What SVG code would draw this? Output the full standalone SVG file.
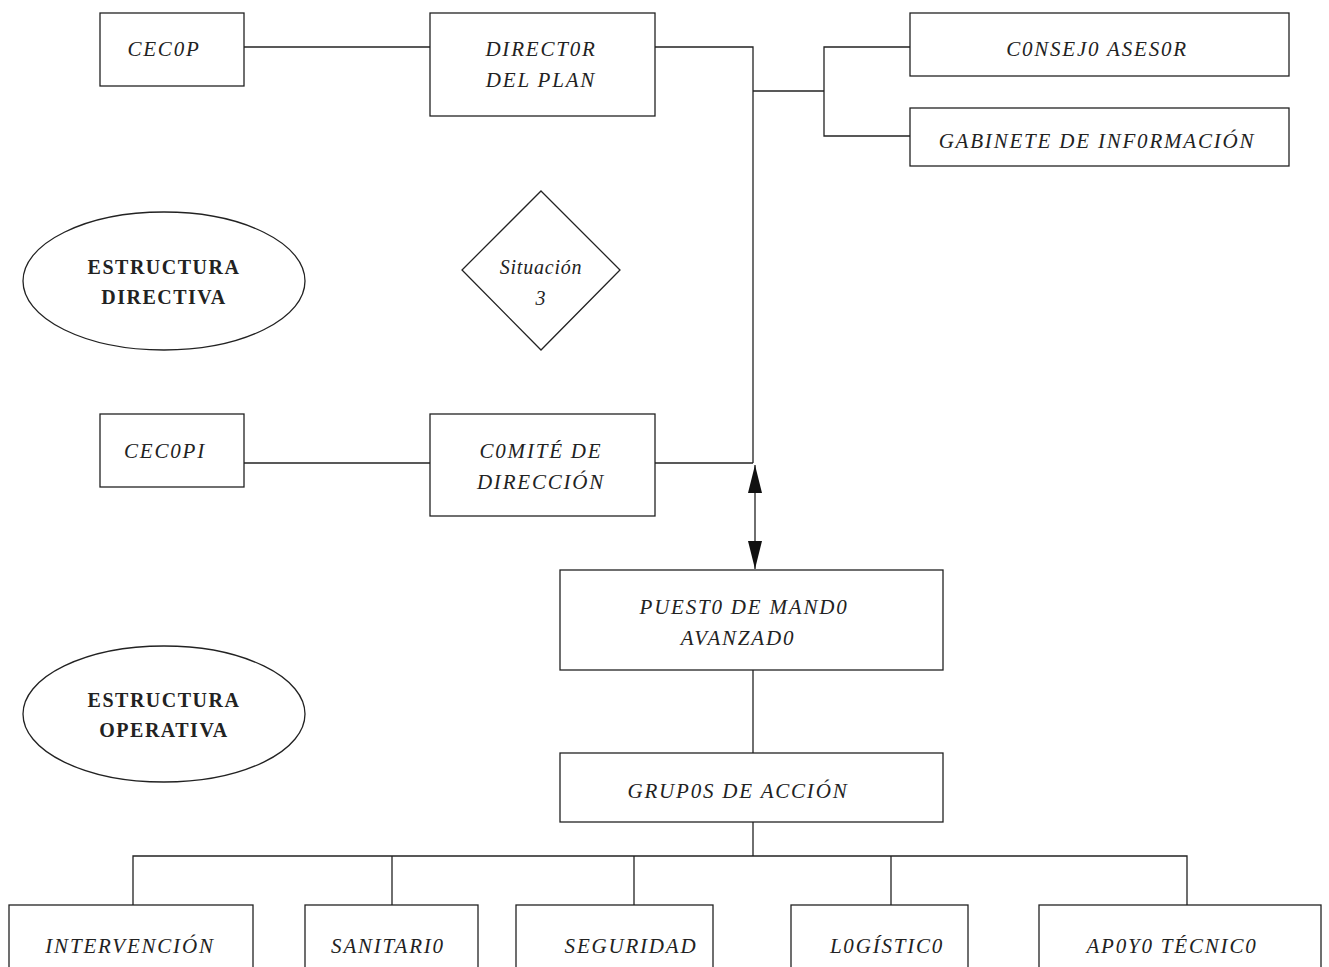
<svg xmlns="http://www.w3.org/2000/svg" width="1329" height="967" viewBox="0 0 1329 967">
<style>
.box{fill:#fff;stroke:#222;stroke-width:1.3}
.ln{fill:none;stroke:#222;stroke-width:1.3}
.t{font-family:"Liberation Serif","Times New Roman",serif;font-style:italic;font-size:21px;fill:#222;text-anchor:middle;letter-spacing:1.8px}
.b{font-family:"Liberation Serif","Times New Roman",serif;font-weight:bold;font-size:20px;fill:#222;text-anchor:middle;letter-spacing:1.5px}
.s{font-family:"Liberation Serif","Times New Roman",serif;font-style:italic;font-size:20px;fill:#222;text-anchor:middle;letter-spacing:0.8px}
</style>
<defs>
<marker id="ah" markerUnits="userSpaceOnUse" markerWidth="28" markerHeight="14" refX="28" refY="7" orient="auto-start-reverse" viewBox="0 0 28 14">
<path d="M0,0 L28,7 L0,14 Z" fill="#111"/>
</marker>
</defs>
<rect width="1329" height="967" fill="#fff"/>
<g id="connectors">
<path class="ln" d="M244,47 H430"/>
<path class="ln" d="M655,47 H753 V463"/>
<path class="ln" d="M753,91 H824"/>
<path class="ln" d="M910,47 H824 V136 H910"/>
<path class="ln" d="M244,463 H430"/>
<path class="ln" d="M655,463 H753"/>
<path class="ln" d="M755,465 V569" marker-start="url(#ah)" marker-end="url(#ah)"/>
<path class="ln" d="M753,670 V753"/>
<path class="ln" d="M753,822 V856"/>
<path class="ln" d="M133,905 V856 H1187 V905"/>
<path class="ln" d="M392,856 V905"/>
<path class="ln" d="M634,856 V905"/>
<path class="ln" d="M891,856 V905"/>
</g>
<g id="cecop"><rect class="box" x="100" y="13" width="144" height="73"/><text class="t" x="164" y="56">CEC0P</text></g>
<g id="director"><rect class="box" x="430" y="13" width="225" height="103"/><text class="t" x="541" y="56">DIRECT0R</text><text class="t" x="541" y="87">DEL PLAN</text></g>
<g id="consejo"><rect class="box" x="910" y="13" width="379" height="63"/><text class="t" x="1097" y="56">C0NSEJ0 ASES0R</text></g>
<g id="gabinete"><rect class="box" x="910" y="108" width="379" height="58"/><text class="t" x="1097" y="148">GABINETE DE INF0RMACIÓN</text></g>
<g id="estructura-directiva"><ellipse class="box" cx="164" cy="281" rx="141" ry="69"/><text class="b" x="164" y="274">ESTRUCTURA</text><text class="b" x="164" y="304">DIRECTIVA</text></g>
<g id="situacion"><polygon class="box" points="541,191 620,270 541,350 462,270"/><text class="s" x="541" y="274">Situación</text><text class="s" x="541" y="305">3</text></g>
<g id="cecopi"><rect class="box" x="100" y="414" width="144" height="73"/><text class="t" x="165" y="458">CEC0PI</text></g>
<g id="comite"><rect class="box" x="430" y="414" width="225" height="102"/><text class="t" x="541" y="458">C0MITÉ DE</text><text class="t" x="541" y="489">DIRECCIÓN</text></g>
<g id="puesto"><rect class="box" x="560" y="570" width="383" height="100"/><text class="t" x="744" y="614">PUEST0 DE MAND0</text><text class="t" x="738" y="645">AVANZAD0</text></g>
<g id="estructura-operativa"><ellipse class="box" cx="164" cy="714" rx="141" ry="68"/><text class="b" x="164" y="707">ESTRUCTURA</text><text class="b" x="164" y="737">OPERATIVA</text></g>
<g id="grupos"><rect class="box" x="560" y="753" width="383" height="69"/><text class="t" x="738" y="798">GRUP0S DE ACCIÓN</text></g>
<g id="intervencion"><rect class="box" x="9" y="905" width="244" height="80"/><text class="t" x="130" y="953">INTERVENCIÓN</text></g>
<g id="sanitario"><rect class="box" x="305" y="905" width="173" height="80"/><text class="t" x="388" y="953">SANITARI0</text></g>
<g id="seguridad"><rect class="box" x="516" y="905" width="197" height="80"/><text class="t" x="631" y="953">SEGURIDAD</text></g>
<g id="logistico"><rect class="box" x="791" y="905" width="177" height="80"/><text class="t" x="887" y="953">L0GÍSTIC0</text></g>
<g id="apoyo"><rect class="box" x="1039" y="905" width="282" height="80"/><text class="t" x="1172" y="953">AP0Y0 TÉCNIC0</text></g>
</svg>
